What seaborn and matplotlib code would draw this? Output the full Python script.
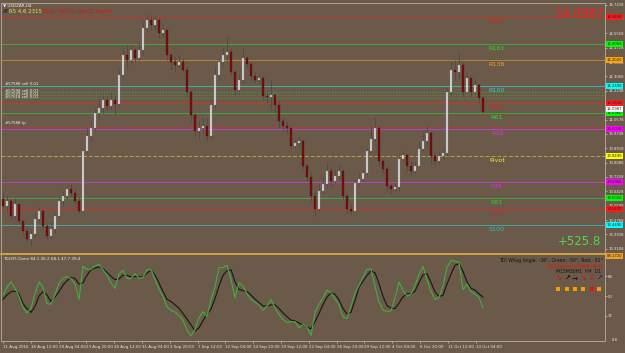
import numpy as np
import pandas as pd
import matplotlib
matplotlib.use("Agg")
import matplotlib.pyplot as plt
import matplotlib.transforms as mtransforms
import seaborn as sns

# USDZAR H4 - precios (cierre, maximo, minimo), una vela cada ~2 barras
first_open = 13.600
close = [13.559, 13.588, 13.501, 13.571, 13.472, 13.414, 13.368, 13.397, 13.484, 13.530,
         13.443, 13.385, 13.426, 13.501, 13.588, 13.617, 13.658, 13.634, 13.588, 13.530,
         13.878, 13.965, 14.006, 14.098, 14.122, 14.168, 14.133, 14.168, 14.145, 14.313,
         14.429, 14.400, 14.458, 14.412, 14.458, 14.586, 14.632, 14.603, 14.632, 14.557,
         14.574, 14.429, 14.388, 14.371, 14.388, 14.342, 14.214, 14.081, 13.994, 14.006,
         14.023, 13.965, 14.139, 14.313, 14.388, 14.429, 14.446, 14.330, 14.226, 14.284,
         14.412, 14.377, 14.307, 14.284, 14.296, 14.191, 14.185, 14.197, 14.139, 14.052,
         14.023, 14.006, 13.907, 13.924, 13.936, 13.791, 13.727, 13.617, 13.542, 13.646,
         13.687, 13.762, 13.704, 13.733, 13.762, 13.617, 13.542, 13.530, 13.692, 13.716,
         13.750, 13.878, 13.948, 14.006, 13.820, 13.774, 13.675, 13.658, 13.669, 13.832,
         13.855, 13.791, 13.762, 13.791, 13.890, 13.936, 13.982, 13.849, 13.820, 13.849,
         13.866, 14.214, 14.342, 14.330, 14.371, 14.214, 14.296, 14.214, 14.255, 14.180,
         14.099]
high = [13.646, 13.617, 13.600, 13.605, 13.559, 13.484, 13.437, 13.426, 13.518, 13.553,
        13.542, 13.460, 13.472, 13.518, 13.611, 13.646, 13.681, 13.692, 13.658, 13.611,
        13.890, 14.006, 14.052, 14.122, 14.180, 14.197, 14.191, 14.214, 14.197, 14.342,
        14.470, 14.487, 14.487, 14.470, 14.504, 14.620, 14.667, 14.661, 14.655, 14.644,
        14.609, 14.586, 14.446, 14.423, 14.429, 14.412, 14.365, 14.226, 14.098, 14.052,
        14.064, 14.064, 14.168, 14.365, 14.412, 14.470, 14.528, 14.470, 14.342, 14.313,
        14.470, 14.423, 14.388, 14.330, 14.319, 14.307, 14.214, 14.284, 14.197, 14.168,
        14.064, 14.052, 14.006, 13.948, 13.965, 13.948, 13.808, 13.750, 13.646, 13.692,
        13.727, 13.808, 13.785, 13.774, 13.791, 13.774, 13.634, 13.565, 13.716, 13.750,
        13.774, 13.901, 14.023, 14.069, 14.023, 13.832, 13.791, 13.692, 13.692, 13.861,
        13.878, 13.866, 13.820, 13.820, 13.936, 13.982, 14.023, 13.994, 13.866, 13.878,
        13.890, 14.238, 14.388, 14.400, 14.446, 14.388, 14.330, 14.313, 14.284, 14.261,
        14.191]
low = [13.553, 13.530, 13.484, 13.484, 13.455, 13.397, 13.356, 13.327, 13.379, 13.460,
       13.426, 13.368, 13.368, 13.402, 13.484, 13.559, 13.600, 13.611, 13.571, 13.518,
       13.518, 13.866, 13.936, 13.994, 14.064, 14.098, 14.110, 14.110, 14.081, 14.133,
       14.296, 14.354, 14.377, 14.388, 14.400, 14.429, 14.562, 14.574, 14.574, 14.528,
       14.539, 14.400, 14.342, 14.330, 14.354, 14.330, 14.185, 14.052, 13.965, 13.948,
       13.982, 13.936, 13.948, 14.122, 14.284, 14.371, 14.400, 14.313, 14.197, 14.214,
       14.261, 14.354, 14.284, 14.267, 14.261, 14.168, 14.156, 14.110, 14.098, 14.006,
       13.994, 13.982, 13.890, 13.895, 13.901, 13.774, 13.704, 13.588, 13.501, 13.530,
       13.634, 13.669, 13.681, 13.692, 13.716, 13.600, 13.518, 13.513, 13.524, 13.681,
       13.704, 13.739, 13.866, 13.936, 13.791, 13.750, 13.646, 13.634, 13.646, 13.646,
       13.820, 13.762, 13.739, 13.750, 13.785, 13.878, 13.907, 13.803, 13.797, 13.808,
       13.832, 13.849, 14.197, 14.284, 14.296, 14.185, 14.214, 14.185, 14.214, 14.151,
       14.093]

# TDI: linea verde (RSI) y linea de senal
tdi_green = [51, 58, 63, 57, 49.5, 39.5, 34.5, 39, 52, 63,
             58, 43, 42.5, 51, 62, 66, 67.6, 66, 61, 47,
             77, 74.5, 74.5, 77.4, 79, 74, 69, 62, 57, 70,
             73.6, 66, 66, 70.5, 66, 67, 74, 74, 65.6, 56,
             50, 40, 37, 35.4, 32, 28, 19, 13.5, 19.4, 30,
             35.6, 31.4, 46.7, 58.4, 76, 76, 78, 65, 48.4, 62,
             59, 52, 47, 44.4, 42, 37, 40.5, 46.7, 39, 33,
             28.6, 25.7, 26.5, 26.6, 20.8, 24, 21.6, 14, 35, 42.4,
             48.8, 55.4, 53, 47.4, 42, 30.8, 29.5, 41, 52.4, 59.8,
             67, 74.5, 74.5, 58.9, 44.8, 37, 35.9, 36.4, 48.2, 62.7,
             55.3, 50, 51.6, 59.6, 69.8, 77, 65, 54, 46.8, 48.6,
             59.6, 76, 82.6, 81.8, 81, 56, 60.8, 54, 51.6, 48.6,
             39]
tdi_signal = [47, 51, 54, 54.5, 52, 43, 38.5, 35, 40.5, 50,
              54, 51, 45, 49, 54, 60, 64, 67, 66, 61,
              62, 69, 74, 75.6, 76.6, 75, 71.6, 68, 65, 65.6,
              69, 69, 67.4, 67.8, 67.4, 67.8, 71, 73.6, 69, 62,
              54, 47, 45, 42, 38.8, 34, 29, 23.6, 18, 21,
              27.4, 33.5, 38, 47.6, 59, 69, 73, 74, 63, 56,
              55, 54, 50.8, 47.2, 44, 40.8, 40.8, 42, 42, 38.6,
              34.6, 31.2, 28, 27.2, 25.4, 23.4, 21.6, 20, 26.4, 34,
              42, 49, 53, 51.6, 46.4, 38.4, 33.6, 35.2, 46, 58,
              63.8, 68.8, 73, 71.2, 61.6, 49.6, 41.2, 39, 38.4, 43.6,
              49.2, 52, 52, 54.4, 62.2, 69.4, 70.4, 62.4, 53.8, 49.6,
              50.6, 61, 70, 78, 79.6, 72.6, 63, 57, 55.4, 52,
              49]

# niveles pivote Fibonacci
level_names = ["R200", "R161", "R138", "R100", "R76", "R61", "R38",
               "Pivot", "S38", "S61", "S76", "S100"]
level_price = [14.649, 14.496, 14.402, 14.249, 14.155, 14.096, 14.002,
               13.849, 13.696, 13.602, 13.543, 13.449]
level_line = ["#c0392b", "#3fa83f", "#b8862b", "#3fb5a5", "#c0392b", "#3fa83f", "#c040c0",
              "#b5a642", "#c040c0", "#3fa83f", "#c0392b", "#3fa8a5"]
level_text = ["#e02020", "#22e022", "#e8a020", "#30d0d0", "#e02020", "#22e022", "#e030e0",
              "#f0f020", "#e030e0", "#22e022", "#e02020", "#30c0c0"]
level_box = ["#ff1a1a", "#00ff00", "#ffa500", "#00ffff", "#ff1a1a", "#00ff00", "#ff00ff",
             "#ffff00", "#ff00ff", "#00ff00", "#ff1a1a", "#00ffff"]

# ordenes abiertas
order_labels = ["#57588 sell 0.01", "#57598 sell 0.01", "#57599 sell 0.01", "#57618 sell 0.01"]
order_price = [14.249, 14.214, 14.197, 14.180]
order_label_y = [14.262, 14.224, 14.207, 14.190]
tp_price = 14.012
bid = 14.0987

date_labels = ["11 Aug 2016", "16 Aug 12:00", "19 Aug 04:00", "23 Aug 20:00", "26 Aug 12:00",
               "31 Aug 04:00", "2 Sep 20:00", "7 Sep 12:00", "12 Sep 04:00", "14 Sep 20:00",
               "19 Sep 12:00", "22 Sep 04:00", "26 Sep 20:00", "29 Sep 12:00", "4 Oct 04:00",
               "6 Oct 20:00", "11 Oct 12:00", "14 Oct 04:00"]

bg = "#6b5a4a"
sns.set_theme(style="ticks")
plt.rcParams["font.family"] = ["DejaVu Sans"]
plt.rcParams["axes.facecolor"] = bg

fig = plt.figure(figsize=(6.25, 3.53), dpi=100, facecolor=bg)
ax = fig.add_axes([1 / 625, 100 / 353, 604 / 625, 250 / 353])
ax2 = fig.add_axes([1 / 625, 12 / 353, 604 / 625, 87 / 353])
for a in (ax, ax2):
    a.set_facecolor(bg)
    for s in a.spines.values():
        s.set_color("#b8ae9f")
        s.set_linewidth(0.6)
    a.set_xlim(-0.5, 150.5)
    a.yaxis.tick_right()
    a.tick_params(axis="y", colors="#e6e6e6", labelsize=2.7, length=1.2, width=0.4, pad=1.0)

ax.set_ylim(13.2864, 14.731)
ax2.set_ylim(8.9, 88.4)
ax2.spines["top"].set_color("#d9a441")
ax2.spines["top"].set_linewidth(1.3)

# velas
df = pd.DataFrame({"close": close, "high": high, "low": low})
df["open"] = [first_open] + close[:-1]
df["x"] = np.arange(len(df))
bull = df["close"] >= df["open"]
ax.vlines(df["x"], df["low"], df["high"], color="#4a4a4a", lw=0.6, zorder=3)
body = (df["close"] - df["open"]).abs().clip(lower=0.004)
bottom = df[["open", "close"]].min(axis=1)
ax.bar(df["x"][bull], body[bull], bottom=bottom[bull], width=0.55, color="#d4d4d4",
       edgecolor="#8a8a8a", linewidth=0.2, zorder=4)
ax.bar(df["x"][~bull], body[~bull], bottom=bottom[~bull], width=0.55, color="#7d0f0f",
       edgecolor="#3a0505", linewidth=0.2, zorder=4)

# niveles
for name, p, lc, tc in zip(level_names, level_price, level_line, level_text):
    ls = (0, (4, 2)) if name == "Pivot" else "-"
    ax.axhline(p, color=lc, lw=0.7, ls=ls, zorder=1)
    ax.text(123.5, p - 0.012, name, color=tc, fontsize=4.6, ha="center", va="top", zorder=5)

for p in order_price[1:]:
    ax.axhline(p, color="#3fa83f", lw=0.5, ls=(0, (2, 2)), zorder=1)
ax.axhline(tp_price, color="#d23030", lw=0.6, ls=(0, (4, 1.5, 1, 1.5)), zorder=1)
for lab, p in zip(order_labels, order_label_y):
    ax.text(0.5, p, lab, color="#f0f0f0", fontsize=2.8, ha="left", va="center", zorder=5)
ax.text(0.5, 14.035, "#57588 tp", color="#f0f0f0", fontsize=2.8, ha="left", va="center", zorder=5)

# eje de precios
ticks = np.arange(13.3108, 14.74, 0.0830)
ax.set_yticks(ticks)
ax.set_yticklabels([f"{t:.4f}" for t in ticks])
ax.set_xticks([])
trans = mtransforms.blended_transform_factory(ax.transAxes, ax.transData)
box_kw = dict(transform=trans, fontsize=2.7, color="#202020", ha="left", va="center", clip_on=False)
for p, bc in zip(level_price, level_box):
    ax.text(1.003, p, f"{p:.4f}", bbox=dict(boxstyle="square,pad=0.25", fc=bc, ec="none"), **box_kw)
ax.text(1.003, bid + 0.022, f"{bid:.4f}",
        bbox=dict(boxstyle="square,pad=0.25", fc="#ffffff", ec="none"), **box_kw)

# textos del grafico principal
ax.text(0.003, 0.997, "\u25bc USDZAR,H4", transform=ax.transAxes, color="#f0f0f0",
        fontsize=3.0, ha="left", va="top")
for txt, px, c in [("AT", 3, "#111111"), ("R5 4.6 2315", 9, "#f0e040"), ("Day5", 41, "#e01010"),
                   ("Day10", 58, "#e01010"), ("Day20", 77, "#e01010"), ("Day40", 96, "#e01010")]:
    ax.text((px - 1) / 604, 0.966, txt, transform=ax.transAxes, color=c, fontsize=3.9,
            ha="left", va="center")
ax.text(0.9985, 0.985, f"{bid:.4f}", transform=ax.transAxes, color="#ff1a1a", fontsize=8.5,
        ha="right", va="top")
ax.text(0.993, 0.045, "+525.8", transform=ax.transAxes, color="#55d455", fontsize=8.5,
        ha="right", va="center")

# TDI
sns.lineplot(x=df["x"], y=tdi_signal, ax=ax2, color="#151515", lw=0.8)
sns.lineplot(x=df["x"], y=tdi_green, ax=ax2, color="#3fb03f", lw=0.8)
ax2.set_ylabel("")
ax2.set_yticks([68, 50, 32])
ax2.set_yticklabels(["68", "50", "32"])
trans2 = mtransforms.blended_transform_factory(ax2.transAxes, ax2.transData)
ax2.text(1.003, 86.8, "88.1720", transform=trans2, fontsize=2.7, color="#202020",
         ha="left", va="center", clip_on=False,
         bbox=dict(boxstyle="square,pad=0.25", fc="#f0a020", ec="none"))
ax2.text(1.012, 10.0, "8.8", transform=trans2, fontsize=2.7, color="#e6e6e6",
         ha="left", va="center", clip_on=False)

ax2.text(0.003, 0.965, "TDI-RT-Clone 84.1 36.2 68.1 47.7 39.4", transform=ax2.transAxes,
         color="#f0f0f0", fontsize=3.0, ha="left", va="top")
ax2.text(0.9965, 0.93, "TDI WAvg Angle: -36\u00b0, Green: -50\u00b0, Red: -31\u00b0",
         transform=ax2.transAxes, color="#111111", fontsize=3.3, ha="right", va="center")
ax2.text(0.9965, 0.865, "TDICrossed DOWN [8.0]", transform=ax2.transAxes, color="#e01010",
         fontsize=3.3, ha="right", va="center")
ax2.text(0.9935, 0.795, "M15M30H1  H4  D1", transform=ax2.transAxes, color="#111111",
         fontsize=3.3, ha="right", va="center")
icon_px = [558, 567, 575, 583, 592, 599]
arrows = ["\u2198", "\u2197", "\u2192", "\u2198", "\u2193", "\u2197"]
arrow_c = ["#e01010", "#111111", "#111111", "#e01010", "#e01010", "#333333"]
sq_c = ["#f5a000", "#f5a000", "#f5a000", "#f5a000", "#f01010", "#f5a000"]
for px, ar, ac, sc in zip(icon_px, arrows, arrow_c, sq_c):
    fx = (px - 1) / 604
    ax2.text(fx, 0.72, ar, transform=ax2.transAxes, color=ac, fontsize=5,
             ha="center", va="center", fontweight="bold")
    ax2.scatter([fx], [0.6], transform=ax2.transAxes, marker="s", s=5, color=sc,
                linewidths=0, clip_on=False)

# eje de fechas
date_ticks = np.arange(len(date_labels)) * 6.95
ax2.set_xticks(date_ticks)
ax2.set_xticklabels(date_labels)
ax2.set_xlabel("")
ax2.tick_params(axis="x", colors="#e6e6e6", labelsize=2.9, length=1.5, width=0.4, pad=1.2)
for lab in ax2.get_xticklabels():
    lab.set_ha("left")

fig.savefig("out.png", dpi=100, facecolor=bg)
